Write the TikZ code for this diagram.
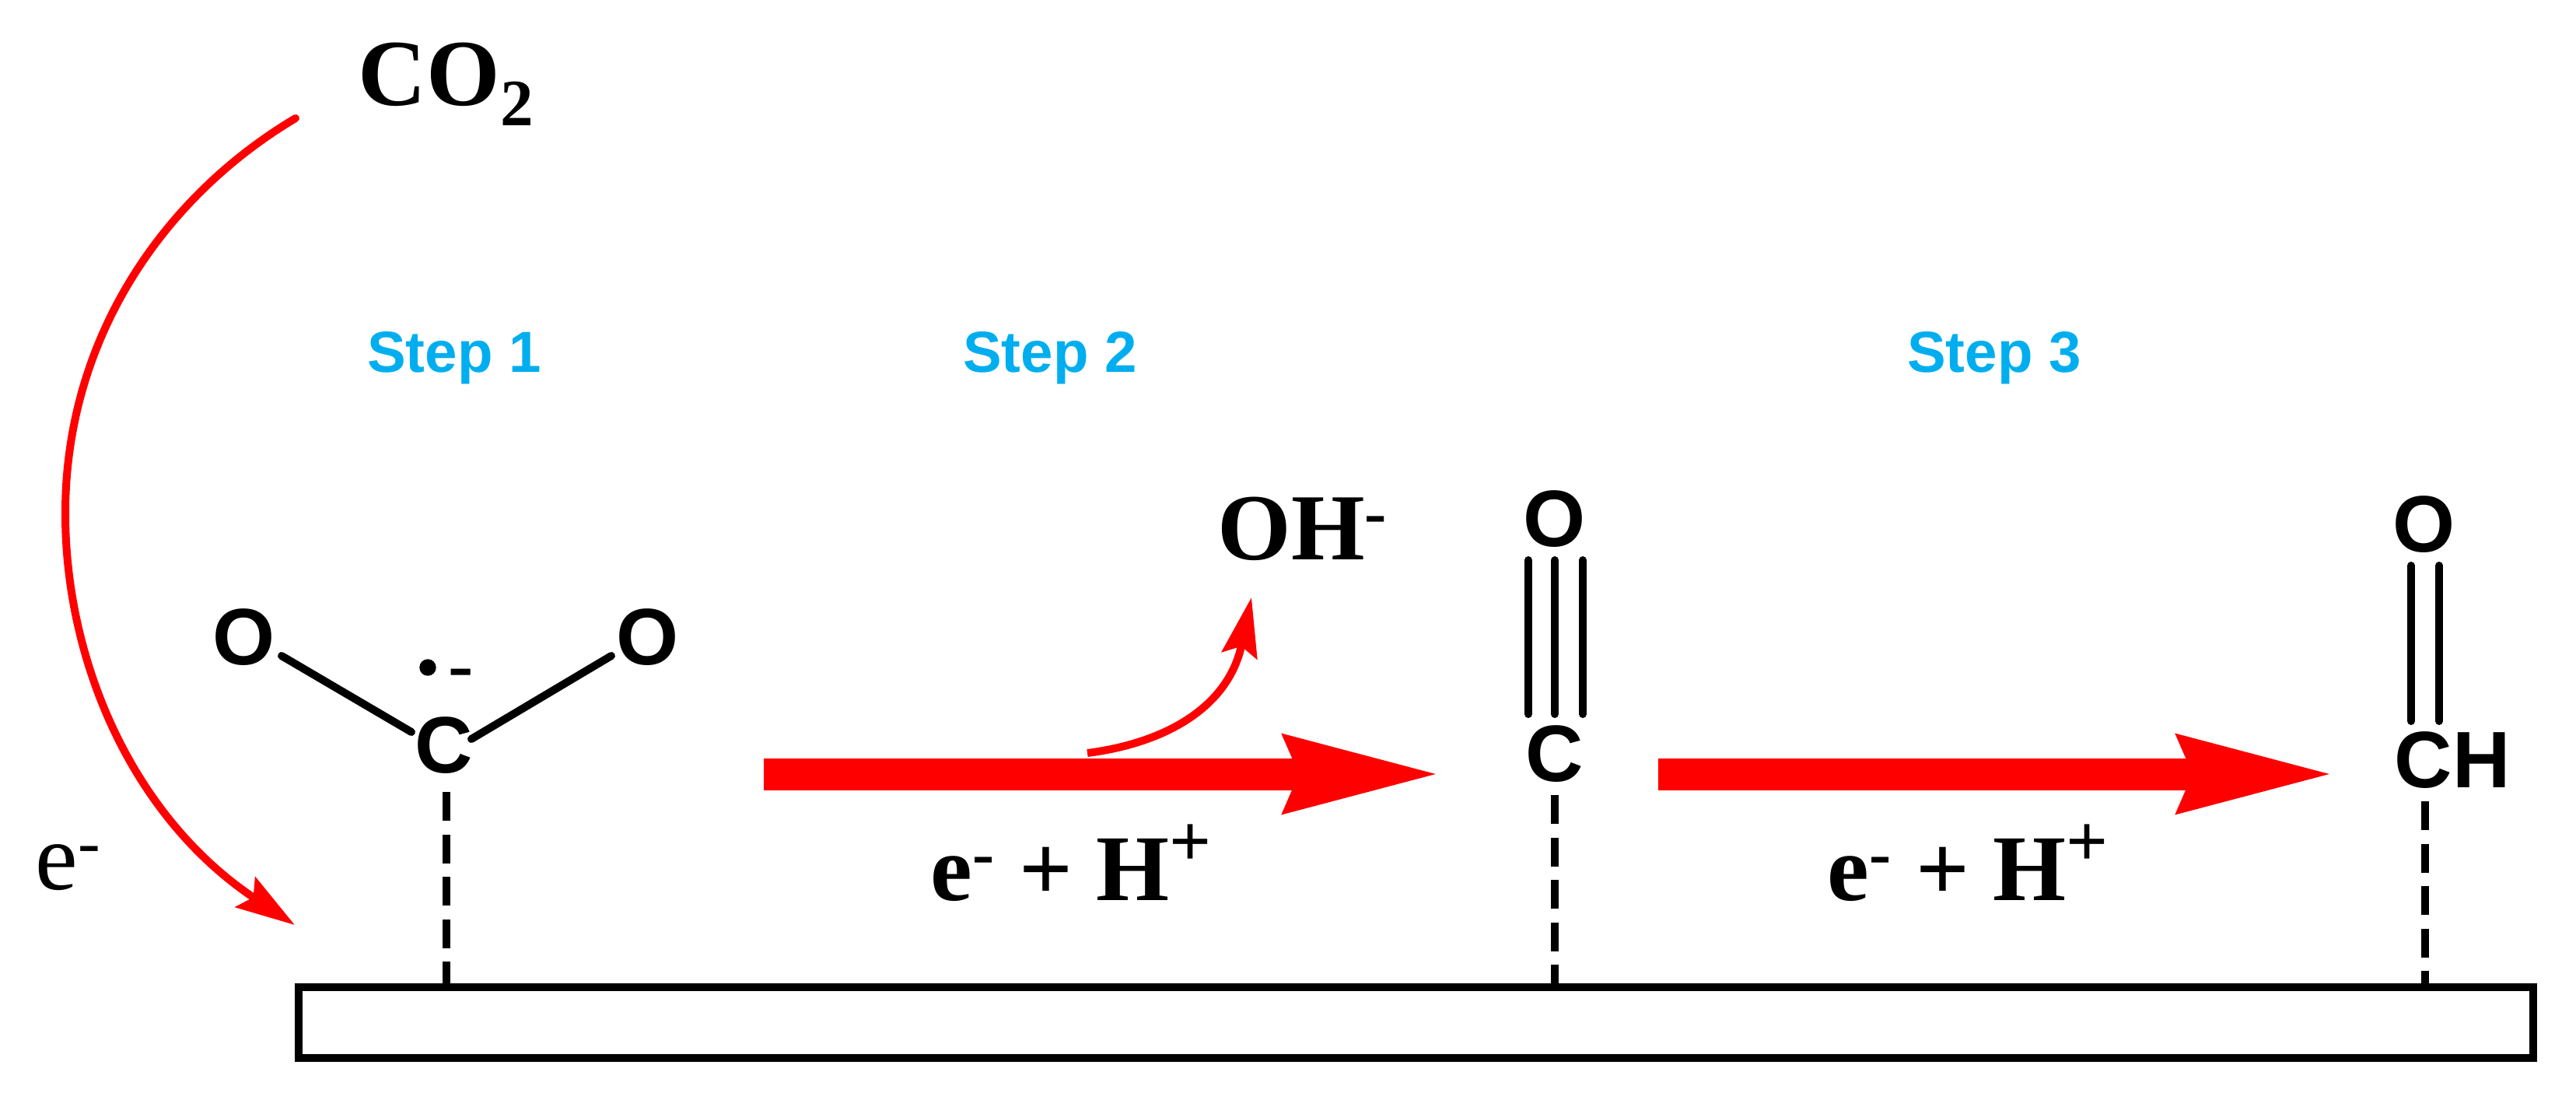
\documentclass[tikz,border=0pt]{standalone}
\usepackage{fontspec}
\usepackage{xcolor}
\usetikzlibrary{arrows.meta}
\setmainfont{Liberation Serif}
\newfontfamily\atomfont{Liberation Sans}
\definecolor{stepblue}{RGB}{0,174,239}
\newcommand{\supsym}[1]{\raisebox{.36em}{\fontsize{27}{30}\selectfont #1}}
\tikzset{
  atom/.style={inner sep=0pt, font=\atomfont\bfseries\fontsize{29.3}{34}\selectfont},
  steplabel/.style={inner sep=0pt, anchor=base, text=stepblue, font=\atomfont\bfseries\fontsize{21.2}{25}\selectfont},
  species/.style={inner sep=0pt, anchor=base west, font=\bfseries\fontsize{34.6}{42}\selectfont},
  bond/.style={black, line width=.1cm, line cap=round},
  surfbond/.style={black, line width=.095cm, dash pattern=on .37cm off .175cm},
  bigarrow/.style={red, line width=.41cm, -{Stealth[length=2cm,width=.92cm,inset=.14cm]}},
  thinarrow/.style={red, line width=.1cm, -{Stealth[length=.76cm,width=.46cm,inset=.12cm]}}
}
\begin{document}
\begin{tikzpicture}
        \useasboundingbox (0,0) rectangle (33.12,14.13);
        % surface
        \node[draw=black, line width=.1cm, outer sep=0pt, minimum width=28.73cm, minimum height=.91cm] (slab) at (18.205,0.985) {};
        % adsorbed species
        \node[atom] (oLeft) at (3.14,5.94) {O};
        \node[atom] (oRight) at (8.33,5.94) {O};
        \node[atom] (cOne) at (5.71,4.55) {C};
        \node[atom, font=\atomfont\fontsize{29.3}{34}\selectfont] (minus) at (5.93,5.37) {-};
        \filldraw[black] (5.50,5.55) circle (.10);
        \node[atom] (oTwo) at (19.99,7.46) {O};
        \node[atom] (cTwo) at (19.99,4.44) {C};
        \node[atom] (oThree) at (31.16,7.39) {O};
        \node[atom] (cThree) at (31.53,4.36) {CH};
        % bonds
        \draw[bond] ([shift={(.48,-.24)}]oLeft.center) -- ([shift={(-.42,.17)}]cOne.center);
        \draw[bond] ([shift={(-.47,-.24)}]oRight.center) -- ([shift={(.35,.08)}]cOne.center);
        \draw[bond] ([shift={(-.34,-.53)}]oTwo.center) -- ([shift={(-.34,.51)}]cTwo.center);
        \draw[bond] ([shift={(0,-.53)}]oTwo.center) -- ([shift={(0,.51)}]cTwo.center);
        \draw[bond] ([shift={(.36,-.53)}]oTwo.center) -- ([shift={(.36,.51)}]cTwo.center);
        \draw[bond] ([shift={(-.16,-.53)}]oThree.center) -- ([shift={(-.53,.50)}]cThree.center);
        \draw[bond] ([shift={(.20,-.53)}]oThree.center) -- ([shift={(-.17,.50)}]cThree.center);
        % bonds to the surface
        \draw[surfbond] ([shift={(.03,-.60)}]cOne.center) -- ([xshift=.03cm]cOne.center |- slab.north);
        \draw[surfbond] ([yshift=-.53cm]cTwo.center) -- (cTwo.center |- slab.north);
        \draw[surfbond] ([shift={(-.35,-.53)}]cThree.center) -- ([xshift=-.35cm]cThree.center |- slab.north);
        % step labels
        \node[steplabel] (stepOne) at (5.84,9.35) {Step 1};
        \node[steplabel] (stepTwo) at (13.50,9.35) {Step 2};
        \node[steplabel] (stepThree) at (25.64,9.35) {Step 3};
        % gas phase and reagents
        \node[species] (cotwo) at (4.60,12.78) {CO\textsubscript{2}};
        \node[species] (hydroxide) at (15.65,6.94) {OH\textsuperscript{-}};
        \node[species, font=\fontsize{35}{42}\selectfont] (electron) at (.45,2.70) {e\textsuperscript{-}};
        \node[species, font=\bfseries\fontsize{34.4}{40}\selectfont] (reagentOne) at (11.96,2.56) {e\textsuperscript{-} + H\supsym{+}};
        \node[species, font=\bfseries\fontsize{34.4}{40}\selectfont] (reagentTwo) at (23.49,2.56) {e\textsuperscript{-} + H\supsym{+}};
        % arrows
        \coordinate (startOne) at (9.82,4.18);
        \coordinate (endOne) at (18.57,4.18);
        \coordinate (startTwo) at (21.32,4.18);
        \coordinate (endTwo) at (30.06,4.18);
        \coordinate (leave) at (13.98,4.45);
        \coordinate (leaveEnd) at (16.09,6.45);
        \coordinate (gas) at (3.80,12.61);
        \coordinate (gasMid) at (0.84,7.53);
        \coordinate (gasEnd) at (3.79,2.24);
        \draw[bigarrow] (startOne) -- (endOne);
        \draw[bigarrow] (startTwo) -- (endTwo);
        \draw[thinarrow] (leave) .. controls (15.0,4.58) and (15.8,5.05) .. (leaveEnd);
        \draw[thinarrow, line cap=round] (gas) .. controls (2.15,11.63) and (0.84,9.83) .. (gasMid) .. controls (0.84,5.63) and (1.70,3.63) .. (gasEnd);
    \end{tikzpicture}
\end{document}
